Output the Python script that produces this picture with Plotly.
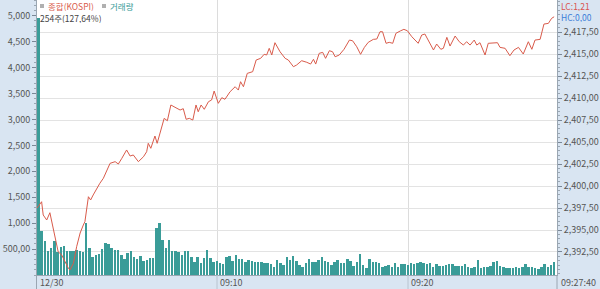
import plotly.graph_objects as go
import pandas as pd

# ---- data ----
# volume bars, every 10 s from 09:00:40 to 09:27:40
bar_start = "09:00:40"
volume = [4950, 855, 662, 469, 514, 655, 450, 546, 565, 463, 469, 463, 482, 469, 437, 1008, 527, 353, 379, 405,
          508, 610, 598, 527, 482, 482, 379, 315, 418, 463, 347, 315, 366, 270, 289, 334, 321, 912, 1008, 675,
          521, 675, 463, 463, 450, 392, 463, 463, 353, 257, 353, 237,
          334, 482, 321, 257, 276, 237, 218, 341, 360, 270, 379, 302, 302, 257, 289, 276, 257, 251, 251, 237,
          225, 212, 148, 289, 225, 186, 347, 289, 360, 270, 193, 148, 225, 302, 257, 257, 283, 341, 270, 251,
          186, 251, 289, 237, 237, 315, 270, 180, 257, 405, 186, 135, 315, 257, 257, 237, 160, 180, 199, 160,
          225, 160, 206, 220,
          193, 237, 206, 225, 244, 237, 212, 225, 148, 212, 174, 174, 193, 212, 206, 180, 174, 174, 212, 148,
          135, 148, 289, 141, 160, 148, 174, 257, 276, 180, 148, 128, 128, 141, 148, 128, 148, 206, 148, 148,
          128, 116, 160, 212, 148, 193, 244]

# KOSPI line: seconds after 09:00 and index value
line_sec = [34, 49, 54, 65, 75, 84, 91, 101, 112, 122, 133, 138, 149, 159, 170, 180, 185, 196, 203, 211,
            222, 232, 243, 253, 264, 280, 290, 301, 316, 327, 337, 353, 369, 379, 384, 392, 400,
            405, 412, 423, 434, 444, 455, 468, 484, 494, 503, 513, 524, 534, 541, 550, 560, 573, 583, 591,
            604, 615, 625, 641, 657, 667, 674, 683, 695, 712, 723, 737, 748, 756, 764, 772, 782, 798,
            814, 824, 840, 850, 866, 882, 894, 903, 910, 921, 932, 941, 953, 963, 971, 984, 999, 1016,
            1026, 1039, 1051, 1063, 1075, 1091, 1102, 1112, 1120, 1131, 1141, 1152, 1162, 1177, 1187,
            1198, 1212, 1232,
            1243, 1253, 1264, 1280, 1290, 1303, 1311, 1322, 1332, 1348, 1361, 1374, 1384, 1395, 1408,
            1416, 1426, 1442, 1452, 1466, 1481, 1489, 1505, 1520, 1533, 1547, 1562, 1578, 1589, 1599,
            1615, 1627, 1641, 1651, 1659]
line_val = [2397.47, 2398.22, 2396.71, 2396.14, 2396.97, 2395.38, 2393.87, 2392.53, 2392.16, 2391.40,
            2390.65, 2390.45, 2391.21, 2393.10, 2394.66, 2395.57, 2395.95, 2398.79, 2398.42, 2398.99,
            2399.75, 2400.32, 2400.89, 2401.64, 2402.59, 2402.78, 2402.51, 2403.16, 2404.11, 2403.42,
            2403.54, 2402.78, 2403.34, 2403.91, 2404.87, 2404.30, 2405.24,
            2405.70, 2404.87, 2406.19, 2407.71, 2407.44, 2409.23, 2408.97, 2408.66, 2408.81, 2407.60,
            2407.71, 2407.52, 2409.23, 2408.46, 2409.23, 2408.74, 2409.60, 2409.80, 2410.82,
            2409.42, 2410.06, 2409.88, 2410.74, 2411.31, 2410.93, 2411.88, 2411.31, 2412.83, 2413.02,
            2414.35, 2414.54, 2415.00, 2414.92, 2415.68, 2414.92, 2416.32, 2415.29,
            2414.54, 2414.35, 2413.59, 2413.78, 2414.27, 2414.09, 2413.89, 2414.43, 2413.89, 2415.11,
            2415.22, 2414.54, 2415.41, 2415.29, 2414.72, 2414.92, 2415.57, 2416.62, 2416.54, 2415.86,
            2415.00, 2415.79, 2416.36, 2416.70, 2416.74, 2417.57, 2417.57, 2416.25, 2416.36, 2416.25,
            2417.39, 2417.68, 2417.84, 2417.68, 2417.00, 2416.25,
            2417.19, 2417.31, 2416.62, 2415.49, 2416.17, 2415.57, 2415.68, 2416.93, 2415.94, 2417.08,
            2416.43, 2416.05, 2416.43, 2416.05, 2416.62, 2416.05, 2416.32, 2414.92, 2416.25, 2416.25,
            2416.32, 2415.79, 2415.68, 2414.84, 2415.49, 2415.79, 2415.03, 2416.43, 2415.57, 2416.62,
            2416.70, 2418.44, 2418.52, 2419.09, 2419.27]

vol_ticks = [500, 1000, 1500, 2000, 2500, 3000, 3500, 4000, 4500, 5000]
vol_ticktext = ["500,00", "1,000", "1,500", "2,000", "2,500", "3,000", "3,500", "4,000", "4,500", "5,000"]
px_ticks = [2392.5, 2395.0, 2397.5, 2400.0, 2402.5, 2405.0, 2407.5, 2410.0, 2412.5, 2415.0, 2417.5]
px_ticktext = ["2,392,50", "2,395,00", "2,397,50", "2,400,00", "2,402,50", "2,405,00",
               "2,407,50", "2,410,00", "2,412,50", "2,415,00", "2,417,50"]
x_tick_sec = [600, 1200]
x_labels = ["12/30", "09:10", "09:20", "09:27:40"]
legend_names = ["종합(KOSPI)", "거래량"]
info_text = "254주(127,64%)"
lc_text = "LC:1,21"
hc_text = "HC:0,00"

# ---- figure ----
t0 = pd.Timestamp("2000-01-01 " + bar_start)
base = pd.Timestamp("2000-01-01 09:00:00")
bar_sec = [(t0 - base).total_seconds() + 10 * i for i in range(len(volume))]

W, H = 600, 289
L, R, T, B = 37, 43, 0, 14
pw, ph = W - L - R, H - T - B
xmin = 34.5
xmax = xmin + pw * 3.1414


def fx(px):
    return (px - L) / pw


def fy(py):
    return (H - B - py) / ph


TEAL = "#3a9c98"
RED = "#d95b4b"
FONT = "Noto Sans CJK KR"

fig = go.Figure()
fig.add_trace(go.Bar(x=bar_sec, y=volume, marker=dict(color=TEAL, line=dict(width=0)),
                     width=6.2, yaxis="y", name=legend_names[1]))
fig.add_trace(go.Scatter(x=line_sec, y=line_val, mode="lines", line=dict(color=RED, width=1),
                         yaxis="y2", name=legend_names[0]))

tickfont = dict(family=FONT, size=9, color="#555555")
fig.update_layout(
    width=W, height=H, margin=dict(l=L, r=R, t=T, b=B),
    paper_bgcolor="#d9e5f2", plot_bgcolor="#ffffff",
    showlegend=False, bargap=0,
    xaxis=dict(range=[xmin, xmax], tickvals=x_tick_sec, showticklabels=False, ticks="",
               showgrid=True, gridcolor="#dcdcdc", gridwidth=1, zeroline=False,
               showline=True, linecolor="#9aa6b2", mirror=True),
    yaxis=dict(range=[0, 5303], tickvals=vol_ticks, ticktext=vol_ticktext, side="left",
               ticks="outside", ticklen=4, tickcolor="#7a8796", tickfont=tickfont,
               minor=dict(ticks="outside", ticklen=2, dtick=100, tickcolor="#9aa6b2"),
               showgrid=False, zeroline=False, showline=True, linecolor="#9aa6b2"),
    yaxis2=dict(range=[2389.88, 2421.18], tickvals=px_ticks, ticktext=px_ticktext, side="right",
                overlaying="y", ticks="outside", ticklen=4, tickcolor="#7a8796", tickfont=tickfont,
                minor=dict(ticks="outside", ticklen=2, dtick=0.5, tickcolor="#9aa6b2"),
                showgrid=True, gridcolor="#e3e3e3", zeroline=False, showline=True, linecolor="#9aa6b2"),
)

anns = []
# x labels in the bottom band
anns.append(dict(x=fx(38), y=fy(282), text=x_labels[0], xanchor="left"))
anns.append(dict(x=fx(218), y=fy(282), text=x_labels[1], xanchor="left"))
anns.append(dict(x=fx(409), y=fy(282), text=x_labels[2], xanchor="left"))
anns.append(dict(x=fx(578), y=fy(282), text=x_labels[3], xanchor="center"))
for a in anns:
    a.update(xref="paper", yref="paper", yanchor="middle", showarrow=False,
             font=dict(family=FONT, size=9, color="#555555"))
# legend-like texts
small = 8.5
anns += [
    dict(x=fx(46), y=fy(5.5), text=legend_names[0], xanchor="left", font=dict(family=FONT, size=small, color=RED)),
    dict(x=fx(108), y=fy(5.5), text=legend_names[1], xanchor="left", font=dict(family=FONT, size=small, color=TEAL)),
    dict(x=fx(38), y=fy(18), text=info_text, xanchor="left", font=dict(family=FONT, size=small, color="#444444")),
    dict(x=fx(559), y=fy(5), text=lc_text, xanchor="left", font=dict(family=FONT, size=small, color="#d9534f")),
    dict(x=fx(559), y=fy(17), text=hc_text, xanchor="left", font=dict(family=FONT, size=small, color="#3b7dd8")),
]
for a in anns[4:]:
    a.update(xref="paper", yref="paper", yanchor="middle", showarrow=False, height=11)

shapes = []
for sx in (40, 102):
    shapes.append(dict(type="rect", xref="paper", yref="paper", x0=fx(sx), x1=fx(sx + 4),
                       y0=fy(8), y1=fy(4), fillcolor="#b0b0b0", line=dict(width=0)))
for sx in (217, 408):
    shapes.append(dict(type="line", xref="paper", yref="paper", x0=fx(sx), x1=fx(sx),
                       y0=fy(275), y1=fy(289), line=dict(color="#b8c4d0", width=1)))
for sx in (36.5, 557):
    shapes.append(dict(type="line", xref="paper", yref="paper", x0=fx(sx), x1=fx(sx),
                       y0=fy(275), y1=fy(289), line=dict(color="#9aa6b2", width=1)))
fig.update_layout(annotations=anns, shapes=shapes)

fig.write_html("out.html")
